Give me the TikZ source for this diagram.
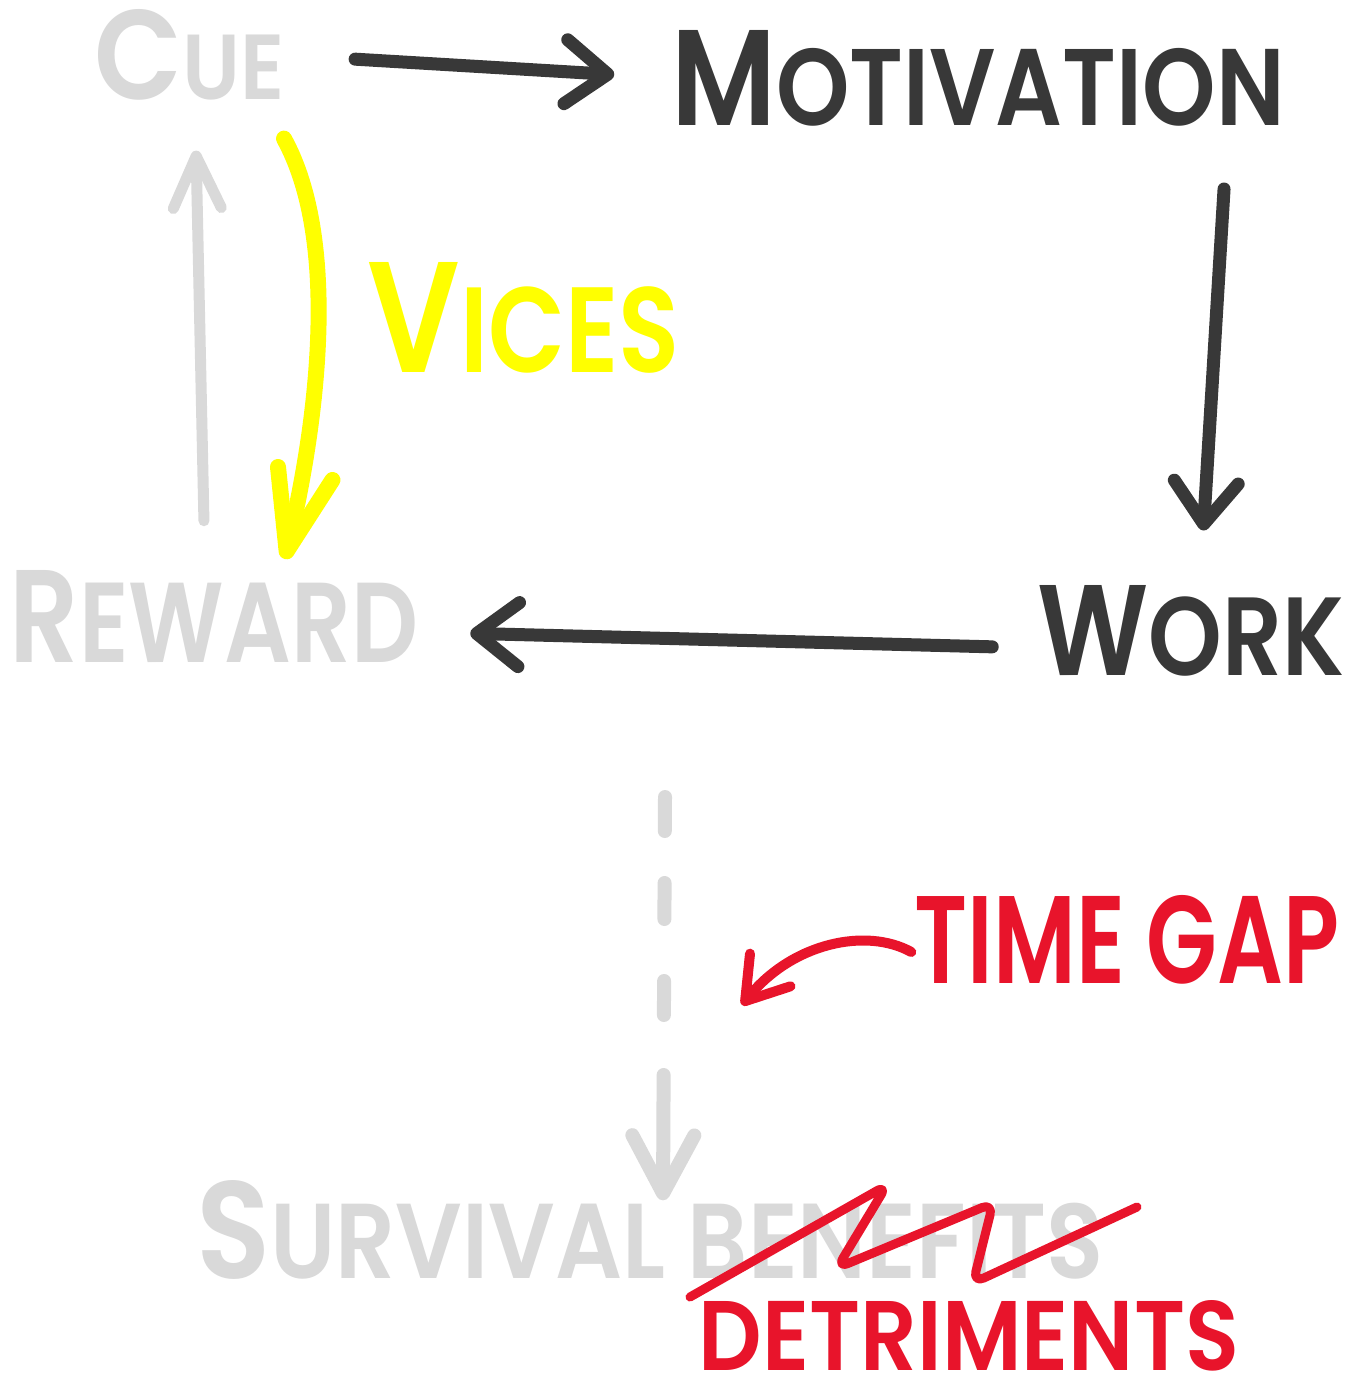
\documentclass[tikz,border=0pt]{standalone}
\usepackage{fontspec}
\setmainfont{Poppins}[UprightFont=* SemiBold]
\usetikzlibrary{arrows.meta}

\definecolor{ink}{HTML}{383838}
\definecolor{faded}{HTML}{D9D9D9}
\definecolor{vice}{HTML}{FFFF00}
\definecolor{alert}{HTML}{E8142B}

% word fitted into its box: width, height, text
\newcommand{\fitword}[3]{\resizebox{#1pt}{#2pt}{#3}}
% larger first letter: size of first letter (rest at 10pt), letter, rest
\newcommand{\bigfirst}[3]{{\fontsize{#1}{#1}\selectfont #2}{\fontsize{10}{10}\selectfont #3}}

\tikzset{
  word/.style={inner sep=0pt, anchor=center},
  marker/.style={line width=13pt, line cap=round, line join=round,
    -{Straight Barb[length=42pt, width=64pt, line cap=round, line join=round]}},
}

\begin{document}
\begin{tikzpicture}[x=1pt, y=-1pt]
		\useasboundingbox[fill=white] (0,0) rectangle (1356,1388);

		% Words
		\node[word, text=faded] (cue) at (190,55) {\fitword{190}{90}{\bigfirst{13.8}{C}{UE}}};
		\node[word, text=ink] (motivation) at (978,78) {\fitword{613}{95}{\bigfirst{12.5}{M}{OTIVATION}}};
		\node[word, text=vice] (vices) at (524,318) {\fitword{312}{110}{\bigfirst{13}{V}{ICES}}};
		\node[word, text=faded] (reward) at (214,617) {\fitword{408}{92}{\bigfirst{11.6}{R}{EWARD}}};
		\node[word, text=ink] (work) at (1191,631) {\fitword{307}{90}{\bigfirst{11.6}{W}{ORK}}};
		\node[word, text=alert] (timegap) at (1127,940) {\fitword{425}{88}{TIME GAP}};
		\node[word, text=faded] (survival) at (650,1230) {\fitword{907}{98}{\bigfirst{13}{S}{URVIVAL} BENEFITS}};
		\node[word, text=alert] (detriments) at (969,1336) {\fitword{540}{70}{DETRIMENTS}};

		% Loop arrows
		\draw[marker, ink, shorten <=70pt, shorten >=57pt] (cue.east) -- (motivation.west);
		\draw[marker, ink, shorten <=63pt, shorten >=55pt]
			([xshift=-57pt]motivation.south east) -- ([xshift=9pt]work.north);
		\draw[marker, ink, shorten <=45pt, shorten >=52pt]
			([yshift=-17pt]work.west) -- ([yshift=-15pt]reward.east);
		\draw[marker, faded, line width=11pt, shorten <=50pt, shorten >=50pt,
			-{Straight Barb[length=52pt, width=48pt, line cap=round, line join=round]}]
			([xshift=-9pt]reward.north) -- ([xshift=5pt]cue.south);

		% Shortcut through the vices
		\coordinate (vicetop) at ([xshift=94pt, yshift=-38pt]cue.south);
		\draw[marker, vice, line width=16pt, shorten >=12pt,
			-{Straight Barb[length=80pt, width=56pt, line cap=round, line join=round]}]
			(vicetop) .. controls (340,240) and (318,420) .. ([xshift=68pt]reward.north);

		% Delayed outcome
		\coordinate (gapstart) at (665,797);
		\draw[marker, faded, line width=14pt,
			dash pattern=on 34pt off 52pt on 36pt off 62pt on 34pt off 60pt on 300pt,
			-{Straight Barb[length=58pt, width=62pt, line cap=round, line join=round]}]
			(gapstart) -- ([xshift=13pt, yshift=-20pt]survival.north);

		% Time gap pointer
		\coordinate (gaptip) at (742,1005);
		\draw[marker, alert, line width=10pt,
			-{Straight Barb[length=40pt, width=52pt, line cap=round, line join=round]}]
			([xshift=-3pt, yshift=-12pt]timegap.west) .. controls +(-45,-25) and +(50,-62) .. (gaptip);

		% Crossing out the benefits
		\draw[alert, line width=9pt, line cap=round, line join=round, rounded corners=12pt]
			(690,1297) -- (887,1185) -- (837,1268) -- (993,1203) -- (973,1283) -- (1137,1207);
	\end{tikzpicture}
\end{document}
